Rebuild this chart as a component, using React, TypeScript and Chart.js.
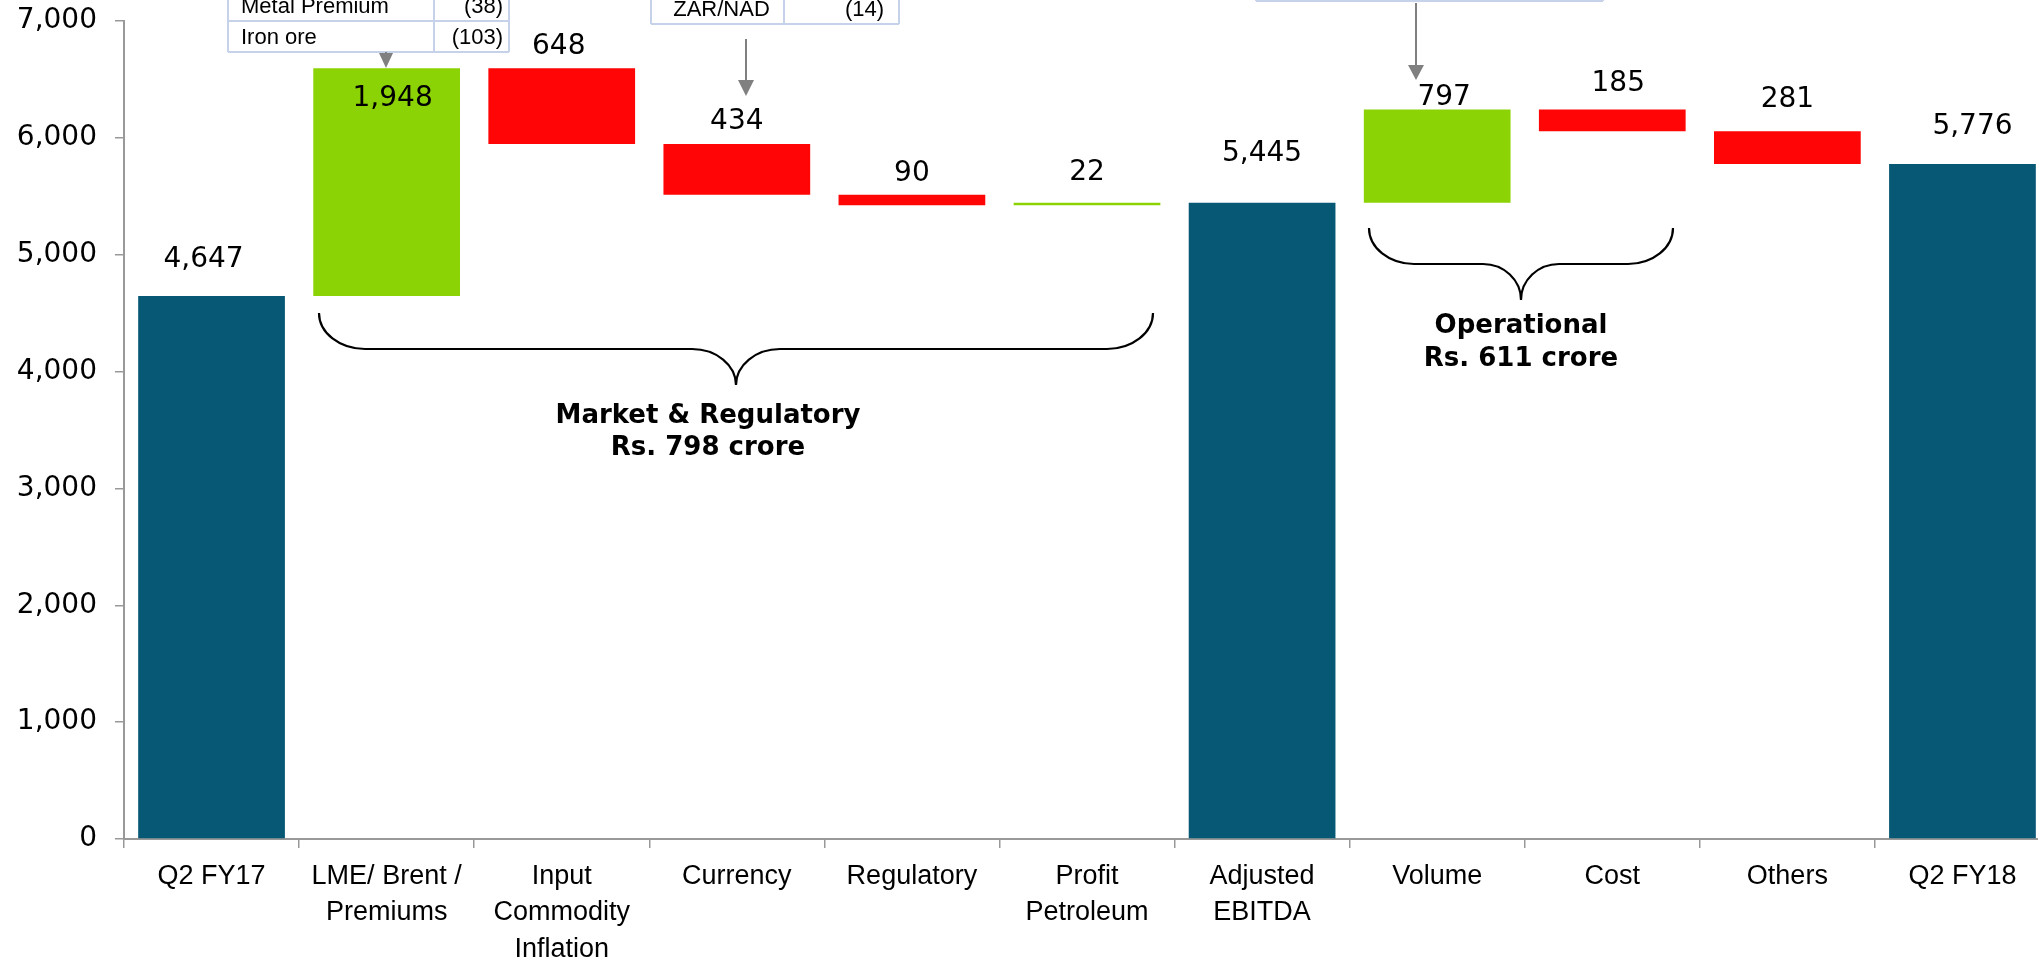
import React, { useEffect, useRef } from 'react';
import { Chart, registerables } from 'chart.js';

Chart.register(...registerables);

// ---------- data ----------
const categories: string[][] = [
  ['Q2 FY17'],
  ['LME/ Brent /', 'Premiums'],
  ['Input', 'Commodity', 'Inflation'],
  ['Currency'],
  ['Regulatory'],
  ['Profit', 'Petroleum'],
  ['Adjusted', 'EBITDA'],
  ['Volume'],
  ['Cost'],
  ['Others'],
  ['Q2 FY18'],
];
// totals are absolute values, others are changes
const changes: number[] = [4647, 1948, -648, -434, -90, 22, 5445, 797, -185, -281, 5776];
const barKinds: string[] = ['total', 'up', 'down', 'down', 'down', 'up', 'total', 'up', 'down', 'down', 'total'];
const yMin = 0;
const yMax = 7000;
const yStep = 1000;

const marketTable: string[][] = [
  ['Metal Premium', '(38)'],
  ['Iron ore', '(103)'],
];
const currencyTable: string[][] = [['ZAR/NAD', '(14)']];
const marketNote: string[] = ['Market & Regulatory', 'Rs. 798 crore'];
const operationalNote: string[] = ['Operational', 'Rs. 611 crore'];

// ---------- styles ----------
const COLORS: Record<string, string> = {
  total: '#065874',
  up: '#8CD305',
  down: '#FF0505',
};
const NUM_FONT = '"DejaVu Sans", Verdana, sans-serif';
const CAT_FONT = '"Liberation Sans", Arial, sans-serif';
const AXIS_GRAY = '#999999';
// label offset above bar top (px); negative => inside bar
const labelOffsetsY = [36, -30, 22, 22, 21, 30, 49, 12, 26, 31, 37];
const labelOffsetsX = [-8, 6, -3, 0, 0, 0, 0, 7, 6, 0, 10];

const CANVAS_W = 2050;
const CANVAS_H = 960;

function buildRanges(): [number, number][] {
  let running = 0;
  return changes.map((v, i) => {
    if (barKinds[i] === 'total') {
      running = v;
      return [0, v] as [number, number];
    }
    const start = running;
    running += v;
    return [Math.min(start, running), Math.max(start, running)] as [number, number];
  });
}

function drawBrace(ctx: CanvasRenderingContext2D, x0: number, x1: number, top: number, h: number, rx: number, rxMid: number) {
  const mid = top + h;
  const tip = top + 2 * h;
  const xm = (x0 + x1) / 2;
  const k = 0.552;
  ctx.beginPath();
  ctx.moveTo(x0, top);
  ctx.bezierCurveTo(x0, top + k * h, x0 + rx - k * rx, mid, x0 + rx, mid);
  ctx.lineTo(xm - rxMid, mid);
  ctx.bezierCurveTo(xm - rxMid + k * rxMid, mid, xm, tip - k * h, xm, tip);
  ctx.bezierCurveTo(xm, tip - k * h, xm + rxMid - k * rxMid, mid, xm + rxMid, mid);
  ctx.lineTo(x1 - rx, mid);
  ctx.bezierCurveTo(x1 - rx + k * rx, mid, x1, top + k * h, x1, top);
  ctx.stroke();
}

function drawArrow(ctx: CanvasRenderingContext2D, x: number, y0: number, y1: number, headLen: number, headW: number) {
  ctx.strokeStyle = '#808080';
  ctx.fillStyle = '#808080';
  ctx.lineWidth = 2;
  if (y1 - headLen > y0) {
    ctx.beginPath();
    ctx.moveTo(x, y0);
    ctx.lineTo(x, y1 - headLen + 1);
    ctx.stroke();
  }
  ctx.beginPath();
  ctx.moveTo(x - headW / 2, y1 - headLen);
  ctx.lineTo(x + headW / 2, y1 - headLen);
  ctx.lineTo(x, y1);
  ctx.closePath();
  ctx.fill();
}

function drawTable(
  ctx: CanvasRenderingContext2D,
  rows: string[][],
  left: number,
  divider: number,
  right: number,
  bottom: number,
  rowH: number,
  textLeftPad: number,
  rightPad: number,
  centerFirst: boolean
) {
  const top = bottom - rows.length * rowH;
  ctx.fillStyle = '#FFFFFF';
  ctx.fillRect(left, top - 60, right - left, bottom - top + 60);
  ctx.strokeStyle = '#C6D2EA';
  ctx.lineWidth = 2;
  ctx.beginPath();
  [left, divider, right].forEach((x) => {
    ctx.moveTo(x, top - 60);
    ctx.lineTo(x, bottom);
  });
  for (let r = 0; r <= rows.length; r++) {
    const y = top + r * rowH;
    ctx.moveTo(left, y);
    ctx.lineTo(right, y);
  }
  ctx.stroke();
  ctx.fillStyle = '#000000';
  ctx.font = '22px ' + CAT_FONT;
  ctx.textBaseline = 'middle';
  rows.forEach((row, r) => {
    const cy = top + r * rowH + rowH / 2 + 1;
    if (centerFirst) {
      ctx.textAlign = 'center';
      ctx.fillText(row[0], (left + divider) / 2 + 4, cy);
    } else {
      ctx.textAlign = 'left';
      ctx.fillText(row[0], left + textLeftPad, cy);
    }
    ctx.textAlign = 'right';
    ctx.fillText(row[1], right - rightPad, cy);
  });
}

const annotationPlugin = {
  id: 'wfAnnotations',
  afterDatasetsDraw(chart: any) {
    const ctx: CanvasRenderingContext2D = chart.ctx;
    const meta = chart.getDatasetMeta(0);
    ctx.save();
    // value labels
    ctx.fillStyle = '#000000';
    ctx.font = '28px ' + NUM_FONT;
    ctx.textAlign = 'center';
    ctx.textBaseline = 'middle';
    meta.data.forEach((el: any, i: number) => {
      const top = Math.min(el.y, el.base);
      ctx.fillText(Math.abs(changes[i]).toLocaleString('en-US'), el.x + labelOffsetsX[i], top - labelOffsetsY[i]);
    });

    // tables
    drawTable(ctx, marketTable, 228, 434, 509, 52, 31, 13, 6, false);
    drawTable(ctx, currencyTable, 651, 784, 899, 24, 31, 0, 15, true);
    // third table: only its bottom edge visible
    ctx.strokeStyle = '#C6D2EA';
    ctx.lineWidth = 2;
    ctx.beginPath();
    ctx.moveTo(1256, 1);
    ctx.lineTo(1603, 1);
    [1256, 1440, 1603].forEach((x) => {
      ctx.moveTo(x, -5);
      ctx.lineTo(x, 1);
    });
    ctx.stroke();

    // arrows
    drawArrow(ctx, 386, 52, 68, 15, 14);
    drawArrow(ctx, 746, 39, 96, 16, 16);
    drawArrow(ctx, 1416, 3, 80, 15, 16);

    // braces
    ctx.strokeStyle = '#000000';
    ctx.lineWidth = 2.2;
    drawBrace(ctx, 319, 1153, 313, 36, 46, 44);
    drawBrace(ctx, 1369, 1673, 228, 36, 45, 38);

    ctx.fillStyle = '#000000';
    ctx.font = 'bold 26px ' + NUM_FONT;
    ctx.textAlign = 'center';
    ctx.textBaseline = 'middle';
    ctx.fillText(marketNote[0], 708, 416);
    ctx.fillText(marketNote[1], 708, 448);
    ctx.fillText(operationalNote[0], 1521, 326);
    ctx.fillText(operationalNote[1], 1521, 359);
    ctx.restore();
  },
};

export default function App() {
  const canvasRef = useRef<HTMLCanvasElement | null>(null);

  useEffect(() => {
    if (!canvasRef.current) return;
    const ranges = buildRanges();
    const chart = new Chart(canvasRef.current, {
      type: 'bar',
      data: {
        labels: categories,
        datasets: [
          {
            data: ranges as any,
            backgroundColor: barKinds.map((k) => COLORS[k]),
            borderWidth: 0,
            barPercentage: 0.838,
            categoryPercentage: 1,
          },
        ],
      },
      options: {
        responsive: false,
        animation: false,
        maintainAspectRatio: false,
        layout: { padding: { top: 21, right: 0, left: 0, bottom: 0 } },
        plugins: {
          legend: { display: false },
          tooltip: { enabled: false },
        },
        scales: {
          x: {
            offset: true,
            grid: {
              display: true,
              drawOnChartArea: false,
              offset: true,
              tickLength: 9,
              color: AXIS_GRAY,
              lineWidth: 1.5,
            },
            border: { display: true, color: AXIS_GRAY, width: 2 },
            ticks: {
              color: '#000000',
              padding: 10,
              maxRotation: 0,
              autoSkip: false,
              font: { family: CAT_FONT, size: 27, lineHeight: 1.35 },
            },
            afterFit: (scale: any) => {
              scale.height = 121;
              scale.paddingLeft = 0;
              scale.paddingRight = 0;
            },
          },
          y: {
            min: yMin,
            max: yMax,
            grid: {
              display: true,
              drawOnChartArea: false,
              tickLength: 9,
              color: AXIS_GRAY,
              lineWidth: 1.5,
            },
            border: { display: true, color: AXIS_GRAY, width: 2 },
            ticks: {
              stepSize: yStep,
              color: '#000000',
              padding: 18,
              font: { family: NUM_FONT, size: 28 },
              callback: (v: any) => Number(v).toLocaleString('en-US'),
            },
            afterFit: (scale: any) => {
              scale.width = 124;
              scale.paddingTop = 0;
              scale.paddingBottom = 0;
            },
          },
        },
      },
      plugins: [annotationPlugin],
    });
    return () => chart.destroy();
  }, []);

  return (
    <div style={{ position: 'fixed', left: 0, top: 0, width: 2038, height: 960, overflow: 'hidden', background: '#fff' }}>
      <canvas ref={canvasRef} width={CANVAS_W} height={CANVAS_H} style={{ display: 'block' }} />
    </div>
  );
}
